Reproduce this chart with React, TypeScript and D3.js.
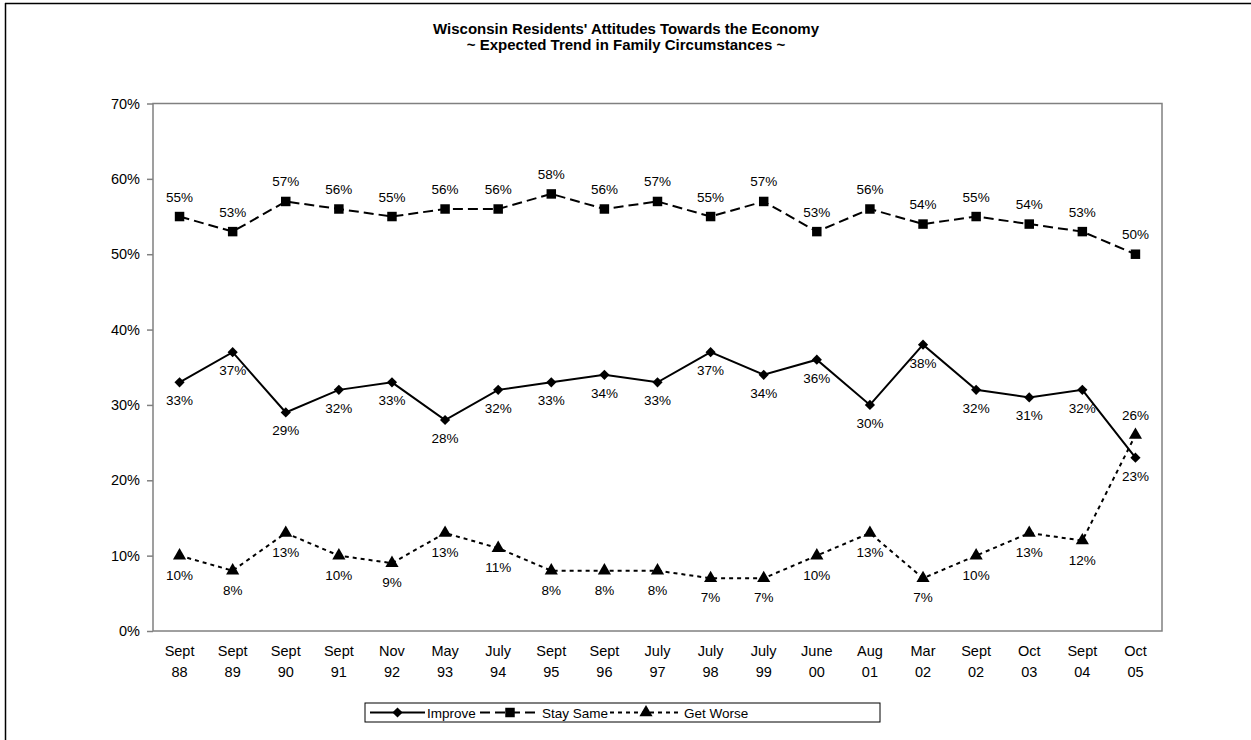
import { useEffect, useRef } from 'react';
import * as d3 from "d3";

const categories = ["Sept 88", "Sept 89", "Sept 90", "Sept 91", "Nov 92", "May 93", "July 94", "Sept 95", "Sept 96", "July 97", "July 98", "July 99", "June 00", "Aug 01", "Mar 02", "Sept 02", "Oct 03", "Sept 04", "Oct 05"];
const improve = [33, 37, 29, 32, 33, 28, 32, 33, 34, 33, 37, 34, 36, 30, 38, 32, 31, 32, 23];
const staySame = [55, 53, 57, 56, 55, 56, 56, 58, 56, 57, 55, 57, 53, 56, 54, 55, 54, 53, 50];
const getWorse = [10, 8, 13, 10, 9, 13, 11, 8, 8, 8, 7, 7, 10, 13, 7, 10, 13, 12, 26];
const yTicks = [0, 10, 20, 30, 40, 50, 60, 70];

export default function App() {
  const ref = useRef<SVGSVGElement>(null);

  useEffect(() => {
    if (!ref.current) return;
    const svg = d3.select(ref.current);
    svg.selectAll("*").remove();

    const width = 1251;
    const height = 740;
    const left = 153, right = 1162, top = 103.5, bottom = 631;
    const font = "Arial, 'Liberation Sans', sans-serif";

    svg.attr("width", width).attr("height", height)
      .style("font-family", font);

    svg.append("rect").attr("width", width).attr("height", height).attr("fill", "white");
    // outer frame (only top and left visible)
    svg.append("line").attr("x1", 5).attr("x2", width).attr("y1", 3.5).attr("y2", 3.5).attr("stroke", "black").attr("stroke-width", 1.5);
    svg.append("line").attr("x1", 5.5).attr("x2", 5.5).attr("y1", 3).attr("y2", height).attr("stroke", "black").attr("stroke-width", 1.5);

    // title
    svg.append("text").attr("x", 626).attr("y", 34).attr("text-anchor", "middle")
      .style("font-size", "15px").style("font-weight", "bold")
      .text("Wisconsin Residents' Attitudes Towards the Economy");
    svg.append("text").attr("x", 626).attr("y", 50).attr("text-anchor", "middle")
      .style("font-size", "15px").style("font-weight", "bold")
      .text("~ Expected Trend in Family Circumstances ~");

    const x = d3.scalePoint<string>().domain(categories).range([left, right]).padding(0.5);
    const y = d3.scaleLinear().domain([0, 70]).range([bottom, top]);

    // plot frame
    svg.append("rect").attr("x", left).attr("y", top).attr("width", right - left).attr("height", bottom - top)
      .attr("fill", "none").attr("stroke", "#808080").attr("stroke-width", 1.5);

    // y axis
    const yAxis = svg.append("g").attr("transform", `translate(${left},0)`)
      .call(d3.axisLeft(y).tickValues(yTicks).tickSize(6).tickPadding(7).tickFormat(d => `${d}%`));
    yAxis.select(".domain").remove();
    yAxis.selectAll("line").attr("stroke", "#808080").attr("stroke-width", 1.5);
    yAxis.selectAll("text").style("font-size", "14.5px").style("font-family", font).attr("fill", "black");

    // x labels
    const xl = svg.append("g");
    categories.forEach(c => {
      const [a, b] = c.split(" ");
      const t = xl.append("text").attr("x", x(c)!).attr("text-anchor", "middle").style("font-size", "14.5px");
      t.append("tspan").attr("x", x(c)!).attr("y", 656).text(a);
      t.append("tspan").attr("x", x(c)!).attr("y", 677).text(b);
    });

    const series = [
      { name: "Improve", values: improve, dash: null, symbol: d3.symbolSquare, size: 52, rot: 45, labelDy: (i: number) => 23 },
      { name: "Stay Same", values: staySame, dash: "10,5", symbol: d3.symbolSquare, size: 90, rot: 0, labelDy: (i: number) => -15 },
      { name: "Get Worse", values: getWorse, dash: "4,4", symbol: d3.symbolTriangle, size: 75, rot: 0, labelDy: (i: number) => i === categories.length - 1 ? -15 : 24 },
    ];

    const line = d3.line<number>().x((_, i) => x(categories[i])!).y(d => y(d));

    series.forEach(s => {
      svg.append("path").datum(s.values).attr("d", line).attr("fill", "none")
        .attr("stroke", "black").attr("stroke-width", 2)
        .attr("stroke-dasharray", s.dash);
      svg.append("g").selectAll("path").data(s.values).join("path")
        .attr("d", d3.symbol(s.symbol, s.size)())
        .attr("transform", (d, i) => `translate(${x(categories[i])},${y(d)}) rotate(${s.rot})`)
        .attr("fill", "black");
      svg.append("g").selectAll("text").data(s.values).join("text")
        .attr("x", (d, i) => x(categories[i])!)
        .attr("y", (d, i) => y(d) + s.labelDy(i))
        .attr("text-anchor", "middle")
        .style("font-size", "13.5px")
        .text(d => `${d}%`);
    });

    // legend
    const lg = svg.append("g");
    const lx = 365, ly = 703, lw = 515, lh = 19;
    lg.append("rect").attr("x", lx).attr("y", ly).attr("width", lw).attr("height", lh)
      .attr("fill", "white").attr("stroke", "black").attr("stroke-width", 1);
    const items = [
      { s: series[0], x0: 370, x1: 425, tx: 427 },
      { s: series[1], x0: 480, x1: 540, tx: 542 },
      { s: series[2], x0: 610, x1: 682, tx: 684 },
    ];
    items.forEach(it => {
      const cy = ly + lh / 2;
      lg.append("line").attr("x1", it.x0).attr("x2", it.x1).attr("y1", cy).attr("y2", cy)
        .attr("stroke", "black").attr("stroke-width", 2).attr("stroke-dasharray", it.s.dash);
      lg.append("path").attr("d", d3.symbol(it.s.symbol, it.s.size)())
        .attr("transform", `translate(${(it.x0 + it.x1) / 2},${cy}) rotate(${it.s.rot})`).attr("fill", "black");
      lg.append("text").attr("x", it.tx).attr("y", cy + 5).style("font-size", "13.5px").text(it.s.name);
    });
  }, []);

  return <svg ref={ref} style={{ position: "absolute", left: 0, top: 0 }}></svg>;
}
